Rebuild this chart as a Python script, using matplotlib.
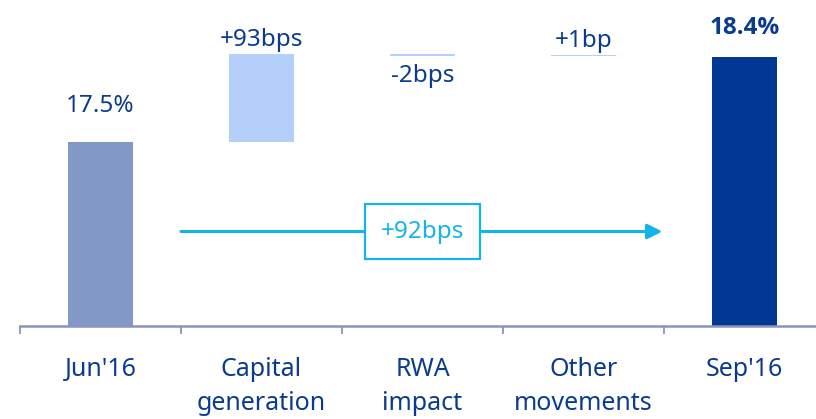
import matplotlib
matplotlib.use("Agg")
import matplotlib.pyplot as plt

plt.rcParams['font.family'] = ['Noto Sans', 'DejaVu Sans']

# Data
categories = ["Jun'16", "Capital\ngeneration", "RWA\nimpact", "Other\nmovements", "Sep'16"]
start_value = 17.5          # CET1 ratio, %
changes_bps = [93, -2, 1]   # movements, basis points
end_value = 18.4            # CET1 ratio, %
value_labels = ["17.5%", "+93bps", "-2bps", "+1bp", "18.4%"]
total_label = "+92bps"

# Styling
DARK = '#003893'
TEXT = '#0B3B8E'
START_C = '#8299C8'
STEP_C = '#B5CFFB'
ARROW_C = '#14B4E9'
AXIS_C = '#8A93BB'
Y_MIN, Y_MAX = 15.55, 19.0
BAR_W = 0.404
VAL_FS = 17.5

W, H = 816, 419
fig = plt.figure(figsize=(W / 100, H / 100), dpi=100)
ax = fig.add_axes([20 / W, (H - 326) / H, 1 - 20 / W, 326 / H])
ax.set_xlim(-0.5, -0.5 + (W - 20) / 161)
ax.set_ylim(Y_MIN, Y_MAX)

# Starting bar
ax.bar(0, start_value - Y_MIN, bottom=Y_MIN, width=BAR_W, color=START_C, zorder=2)
ax.annotate(value_labels[0], (0, start_value), xytext=(0, 30), textcoords='offset pixels',
            ha='center', va='baseline', fontsize=VAL_FS, color=TEXT)

# Floating step bars
level = start_value
for i, ch in enumerate(changes_bps, start=1):
    d = ch / 100.0
    bottom = level if d > 0 else level + d
    ax.bar(i, abs(d), bottom=bottom, width=BAR_W, color=STEP_C, zorder=2)
    if d > 0:
        ax.annotate(value_labels[i], (i, bottom + abs(d)), xytext=(0, 8),
                    textcoords='offset pixels', ha='center', va='baseline',
                    fontsize=VAL_FS, color=TEXT)
    else:
        ax.annotate(value_labels[i], (i, bottom), xytext=(0, -8),
                    textcoords='offset pixels', ha='center', va='top',
                    fontsize=VAL_FS, color=TEXT)
    level += d

# Ending bar
ax.bar(4, end_value - Y_MIN, bottom=Y_MIN, width=BAR_W, color=DARK, zorder=2)
ax.annotate(value_labels[4], (4, end_value), xytext=(0, 23), textcoords='offset pixels',
            ha='center', va='baseline', fontsize=VAL_FS, color=TEXT,
            family=['Open Sans', 'DejaVu Sans'], fontweight='bold')

# Total change arrow with boxed label
arrow_y = 16.55
ax.annotate('', xy=(3.49, arrow_y), xytext=(0.5, arrow_y),
            arrowprops=dict(arrowstyle='-|>,head_length=0.9,head_width=0.45',
                            color=ARROW_C, lw=2.2, shrinkA=0, shrinkB=0), zorder=3)
ax.text(2.0, arrow_y, total_label, ha='center', va='center', fontsize=VAL_FS, color=ARROW_C,
        zorder=4,
        bbox=dict(boxstyle='square,pad=0.65', fc='white', ec=ARROW_C, lw=1.6))

# Axis: baseline with boundary ticks, category labels between them
for side in ['top', 'right', 'left']:
    ax.spines[side].set_visible(False)
ax.spines['bottom'].set_color(AXIS_C)
ax.spines['bottom'].set_linewidth(1.8)
ax.set_yticks([])
ax.set_xticks([-0.5, 0.5, 1.5, 2.5, 3.5])
ax.set_xticklabels([])
ax.tick_params(axis='x', which='major', length=6, width=1.3, color=AXIS_C, direction='out')
ax.set_xticks(range(len(categories)), minor=True)
ax.set_xticklabels(categories, minor=True, fontsize=18, color=TEXT, linespacing=1.5)
ax.tick_params(axis='x', which='minor', length=0, pad=22)

fig.savefig('out.png', dpi=100)
